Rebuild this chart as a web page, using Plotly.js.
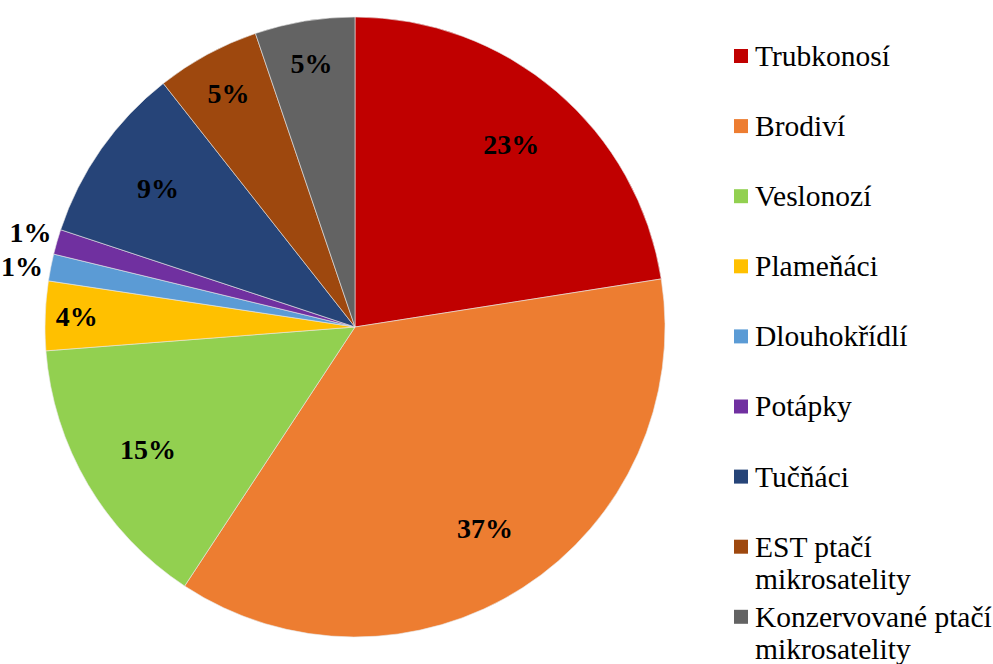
<!DOCTYPE html>
<html>
<head>
<meta charset="utf-8">
<script src="https://cdn.plot.ly/plotly-3.0.1.min.js"></script>
<style>html,body{margin:0;padding:0;background:#fff;}#chart{width:993px;height:664px;}</style>
</head>
<body>
<div id="chart"></div>
<script>
const labels = ['Trubkonosí', 'Brodiví', 'Veslonozí', 'Plameňáci', 'Dlouhokřídlí', 'Potápky', 'Tučňáci', 'EST ptačí mikrosatelity', 'Konzervované ptačí mikrosatelity'];
const values = [22.5, 36.7, 14.5, 3.6, 1.4, 1.3, 9.3, 5.4, 5.2];
const colors = ['#C00000', '#ED7D31', '#92D050', '#FFC000', '#5B9BD5', '#7030A0', '#264478', '#9E480E', '#636363'];
const textPositions = ['inside', 'inside', 'inside', 'inside', 'outside', 'outside', 'inside', 'inside', 'inside'];

const W = 993, H = 664;
const serif = 'Liberation Serif';
const domain = { x: [45 / W, 665 / W], y: [(H - 637) / H, (H - 17) / H] };
const pctFmt = '%{percent:.0%}';
const labelFont = { family: serif, size: 28, color: '#000', weight: 'bold' };
// the two tiny neighbouring slices get their outside labels from different traces,
// so Plotly does not shift them apart and add a leader line
const splitIdx = 5;
const clear = labels.map(() => 'rgba(0,0,0,0)');

// slices
const slices = {
  type: 'pie',
  labels: labels,
  values: values,
  sort: false,
  direction: 'clockwise',
  rotation: 0,
  marker: { colors: colors, line: { color: '#e8e8e8', width: 0.6 } },
  textinfo: 'none',
  domain: domain,
  hoverinfo: 'label+percent',
  showlegend: false
};

// transparent copy carrying the label of one tiny slice, nudged a little so the two 1% labels stack like the reference
const tinyLabel = {
  type: 'pie',
  labels: labels,
  values: values,
  sort: false,
  direction: 'clockwise',
  rotation: 1.5,
  marker: { colors: clear, line: { width: 0 } },
  texttemplate: labels.map((_, i) => i === splitIdx ? pctFmt : ''),
  textposition: 'outside',
  textfont: labelFont,
  outsidetextfont: labelFont,
  domain: domain,
  hoverinfo: 'skip',
  showlegend: false
};

// same data as a transparent ring, so the percentage labels sit in the outer band like the reference
const labelRing = {
  type: 'pie',
  labels: labels,
  values: values,
  sort: false,
  direction: 'clockwise',
  rotation: 0,
  hole: 0.55,
  marker: { colors: clear, line: { width: 0 } },
  texttemplate: labels.map((_, i) => i === splitIdx ? '' : pctFmt),
  textposition: textPositions,
  insidetextorientation: 'horizontal',
  textfont: labelFont,
  insidetextfont: labelFont,
  outsidetextfont: labelFont,
  domain: domain,
  hoverinfo: 'skip',
  showlegend: false
};

// Legend drawn from the same arrays
const legendTop = 56, legendStep = 70.1, lineGap = 32;
const shapes = [], annotations = [];
labels.forEach((lab, i) => {
  const cy = legendTop + i * legendStep;
  shapes.push({
    type: 'rect', xref: 'paper', yref: 'paper',
    x0: 734 / W, x1: 748 / W, y0: 1 - (cy + 7) / H, y1: 1 - (cy - 7) / H,
    fillcolor: colors[i], line: { width: 0 }
  });
  const lines = lab.replace(' mikrosatelity', '\nmikrosatelity').split('\n');
  lines.forEach((ln, k) => {
    annotations.push({
      xref: 'paper', yref: 'paper', x: 753 / W, y: 1 - (cy + k * lineGap) / H,
      xanchor: 'left', yanchor: 'middle', align: 'left', showarrow: false,
      text: ln, font: { family: serif, size: 29.5, color: '#000' }
    });
  });
});

const layout = {
  width: W, height: H,
  margin: { l: 0, r: 0, t: 0, b: 0 },
  paper_bgcolor: '#fff',
  showlegend: false,
  shapes: shapes,
  annotations: annotations
};

Plotly.newPlot('chart', [slices, tinyLabel, labelRing], layout, { displayModeBar: false, staticPlot: true });
</script>
</body>
</html>
